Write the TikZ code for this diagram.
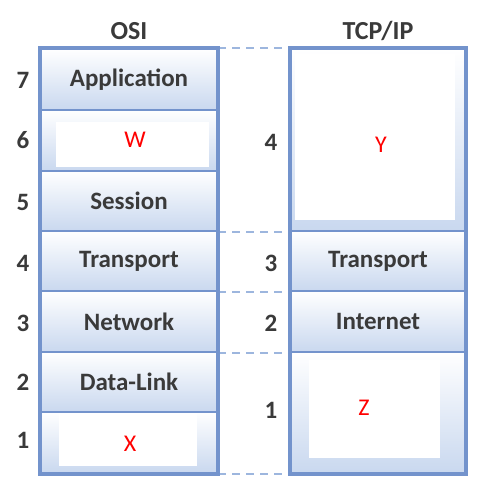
\documentclass[tikz,border=0pt]{standalone}
\usepackage{fontspec}
\setmainfont{Carlito}
\begin{document}
\begin{tikzpicture}[x=1pt,y=-1pt]
\definecolor{bordc}{HTML}{7393CC}
\definecolor{cellb}{HTML}{C9D8EF}
\definecolor{dashc}{HTML}{9DB6DE}
\definecolor{txt}{HTML}{3A3A3A}
\tikzset{
  cell/.style={draw=bordc, line width=2.6pt, top color=white, bottom color=cellb, text=txt,
    font=\fontsize{25}{28}\selectfont\bfseries, inner sep=0pt},
  osicell/.style={cell, minimum width=176pt},
  tcpcell/.style={cell, minimum width=174pt},
  inner/.style={fill=white, draw=none, inner sep=0pt},
  letter/.style={text=red, font=\fontsize{24}{28}\selectfont},
  num/.style={text=txt, font=\fontsize{25}{28}\selectfont\bfseries},
  head/.style={text=txt, font=\fontsize{26}{30}\selectfont\bfseries},
  sep/.style={draw=dashc, line width=2pt, dash pattern=on 8pt off 6pt}
}
\useasboundingbox (0,0) rectangle (498,495);
% OSI column
\node[osicell, minimum height=61pt] (o7) at (129,79.5) {Application};
\node[osicell, minimum height=61pt] (o6) at (129,140.5) {};
\node[osicell, minimum height=60pt] (o5) at (129,201) {Session};
\node[osicell, minimum height=60pt] (o4) at (129,261) {Transport};
\node[osicell, minimum height=61pt] (o3) at (129,321.5) {Network};
\node[osicell, minimum height=60pt] (o2) at (129,382) {Data-Link};
\node[osicell, minimum height=61pt] (o1) at (129,442.5) {};
\node[inner, minimum width=153pt, minimum height=45pt] (w6) at (132.5,144.5) {};
\node[inner, minimum width=138pt, minimum height=53pt] (x1) at (128,439.5) {};
\node[letter] (W) at (135,140) {W};
\node[letter] (X) at (130,444) {X};
% TCP/IP column
\node[tcpcell, minimum height=182pt] (t4) at (378,140) {};
\node[tcpcell, minimum height=60pt] (t3) at (378,261) {Transport};
\node[tcpcell, minimum height=61pt] (t2) at (378,321.5) {Internet};
\node[tcpcell, minimum height=121pt] (t1) at (378,412.5) {};
\node[inner, minimum width=160pt, minimum height=166pt] (y4) at (375,137) {};
\node[inner, minimum width=131pt, minimum height=98pt] (z1) at (374.5,409) {};
\node[letter] (Y) at (381,145) {Y};
\node[letter] (Z) at (364,408) {Z};
% headers
\node[head] (hosi) at (129,31) {OSI};
\node[head] (htcp) at (378,31) {TCP/IP};
% left numbers
\node[num] (n7) at (23,80) {7};
\node[num] (n6) at (23,140) {6};
\node[num] (n5) at (23,202) {5};
\node[num] (n4) at (23,263) {4};
\node[num] (n3) at (23,323) {3};
\node[num] (n2) at (23,382) {2};
\node[num] (n1) at (23,440) {1};
% middle numbers
\node[num] (m4) at (271,142) {4};
\node[num] (m3) at (271,263) {3};
\node[num] (m2) at (271,323) {2};
\node[num] (m1) at (271,410) {1};
% dashed separators
\draw[sep] (o7.north east) -- (t4.north west);
\draw[sep] (o5.south east) -- (t4.south west);
\draw[sep] (o4.south east) -- (t3.south west);
\draw[sep] (o3.south east) -- (t2.south west);
\draw[sep] (o1.south east) -- (t1.south west);
% redraw borders on top of dashes
\draw[draw=bordc, line width=2.6pt] (o7.north west) rectangle (o1.south east);
\draw[draw=bordc, line width=2.6pt] (t4.north west) rectangle (t1.south east);
\end{tikzpicture}
\end{document}
